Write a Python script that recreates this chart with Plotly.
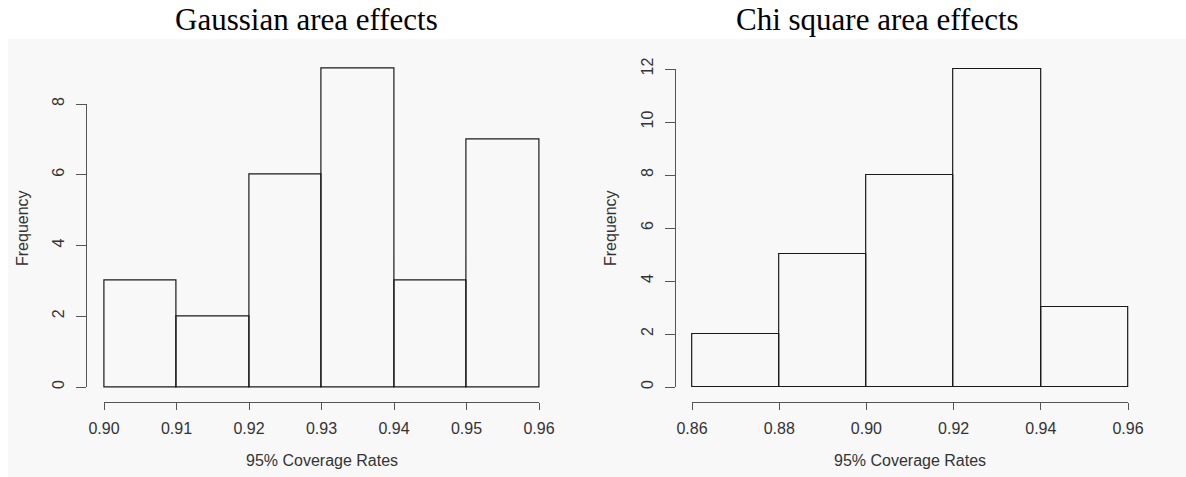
import plotly.graph_objects as go

# ---------------- data ----------------
gauss_edges = [0.90, 0.91, 0.92, 0.93, 0.94, 0.95, 0.96]
gauss_counts = [3, 2, 6, 9, 3, 7]
gauss_xticks = [0.90, 0.91, 0.92, 0.93, 0.94, 0.95, 0.96]
gauss_xlabels = ["0.90", "0.91", "0.92", "0.93", "0.94", "0.95", "0.96"]
gauss_yticks = [0, 2, 4, 6, 8]

chi_edges = [0.86, 0.88, 0.90, 0.92, 0.94, 0.96]
chi_counts = [2, 5, 8, 12, 3]
chi_xticks = [0.86, 0.88, 0.90, 0.92, 0.94, 0.96]
chi_xlabels = ["0.86", "0.88", "0.90", "0.92", "0.94", "0.96"]
chi_yticks = [0, 2, 4, 6, 8, 10, 12]

titles = ["Gaussian area effects", "Chi square area effects"]
xlab = "95% Coverage Rates"
ylab = "Frequency"

# ---------------- geometry (pixels) ----------------
W, H = 1186, 477


def fx(px):
    return px / W


def fy(py):
    return 1 - py / H


AX_COL = "#555555"
TXT_COL = "#333333"
BAR_COL = "#1a1a1a"
SANS = "Liberation Sans"
SERIF = "Liberation Serif"

panels = [
    dict(edges=gauss_edges, counts=gauss_counts, xticks=gauss_xticks, xlabels=gauss_xlabels,
         yticks=gauss_yticks, x0=104.0, x1=539.0, y0=387.0, ytop=104.0,
         yaxis_px=86.0, xaxis_py=402.0, title_x=306, ylab_x=22, data_ax=("x", "y"), disp_ax=("x3", "y3")),
    dict(edges=chi_edges, counts=chi_counts, xticks=chi_xticks, xlabels=chi_xlabels,
         yticks=chi_yticks, x0=692.0, x1=1128.0, y0=387.0, ytop=69.0,
         yaxis_px=675.0, xaxis_py=402.0, title_x=877, ylab_x=610, data_ax=("x2", "y2"), disp_ax=("x4", "y4")),
]

fig = go.Figure()
layout = dict(
    width=W, height=H, autosize=False,
    margin=dict(l=0, r=0, t=0, b=0, pad=0, autoexpand=False),
    paper_bgcolor="white",
    plot_bgcolor="rgba(0,0,0,0)",
    showlegend=False,
    bargap=0,
    shapes=[dict(type="rect", xref="paper", yref="paper", x0=fx(8), x1=1, y0=0, y1=fy(39),
                 fillcolor="#f8f8f8", line=dict(width=0), layer="below")],
    annotations=[],
)

for i, p in enumerate(panels):
    edges = p["edges"]
    centers = [(a + b) / 2 for a, b in zip(edges[:-1], edges[1:])]
    widths = [b - a for a, b in zip(edges[:-1], edges[1:])]
    xmin, xmax = p["xticks"][0], p["xticks"][-1]
    ymin, ymax = p["yticks"][0], p["yticks"][-1]
    pxu = (p["x1"] - p["x0"]) / (xmax - xmin)
    pyu = (p["y0"] - p["ytop"]) / (ymax - ymin)

    xpad = 0.002
    ylo = -0.2
    yhi = max(p["counts"]) + 0.6
    dx, dy = p["data_ax"]
    vx, vy = p["disp_ax"]

    fig.add_trace(go.Bar(
        x=centers, y=p["counts"], width=widths,
        xaxis=dx, yaxis=dy,
        marker=dict(color="rgba(0,0,0,0)", line=dict(color=BAR_COL, width=1.2)),
        hoverinfo="skip",
    ))
    fig.add_trace(go.Scatter(
        x=[xmin], y=[ymin], xaxis=vx, yaxis=vy, mode="markers",
        marker=dict(opacity=0), hoverinfo="skip",
    ))

    dxn = dx.replace("x", "xaxis")
    dyn = dy.replace("y", "yaxis")
    vxn = vx.replace("x", "xaxis")
    vyn = vy.replace("y", "yaxis")

    layout[dxn] = dict(
        domain=[fx(p["x0"] - xpad * pxu), fx(p["x1"] + xpad * pxu)],
        range=[xmin - xpad, xmax + xpad], visible=False, anchor=dy,
    )
    layout[dyn] = dict(
        domain=[fy(p["y0"] - ylo * pyu), fy(p["y0"] - yhi * pyu)],
        range=[ylo, yhi], visible=False, anchor=dx,
    )
    layout[vxn] = dict(
        domain=[fx(p["x0"]), fx(p["x1"])], range=[xmin, xmax],
        anchor="free", position=fy(p["xaxis_py"]),
        showline=True, linecolor=AX_COL, linewidth=1,
        ticks="outside", ticklen=7, tickcolor=AX_COL, tickwidth=1,
        tickvals=p["xticks"], ticktext=p["xlabels"],
        showgrid=False, zeroline=False,
        tickfont=dict(family=SANS, size=16, color=TXT_COL),
        ticklabelstandoff=5,
    )
    layout[vyn] = dict(
        domain=[fy(p["y0"]), fy(p["ytop"])], range=[ymin, ymax],
        anchor="free", position=fx(p["yaxis_px"]),
        showline=True, linecolor=AX_COL, linewidth=1,
        ticks="outside", ticklen=10, tickcolor=AX_COL, tickwidth=1,
        tickvals=p["yticks"], ticktext=[str(v) for v in p["yticks"]],
        tickangle=-90,
        showgrid=False, zeroline=False,
        tickfont=dict(family=SANS, size=16, color=TXT_COL),
        ticklabelstandoff=6,
    )

    layout["annotations"] += [
        dict(text=titles[i], xref="paper", yref="paper", x=fx(p["title_x"]), y=fy(19),
             xanchor="center", yanchor="middle", showarrow=False,
             font=dict(family=SERIF, size=31, color="black")),
        dict(text=ylab, xref="paper", yref="paper", x=fx(p["ylab_x"]), y=fy(228),
             xanchor="center", yanchor="middle", showarrow=False, textangle=-90,
             font=dict(family=SANS, size=16, color=TXT_COL)),
        dict(text=xlab, xref="paper", yref="paper", x=fx((p["x0"] + p["x1"]) / 2), y=fy(460),
             xanchor="center", yanchor="middle", showarrow=False,
             font=dict(family=SANS, size=16, color=TXT_COL)),
    ]

fig.update_layout(**layout)
fig.write_html(
    "out.html",
    config={"displayModeBar": False},
    post_script="document.body.style.margin='0';document.body.style.overflow='hidden';",
)
